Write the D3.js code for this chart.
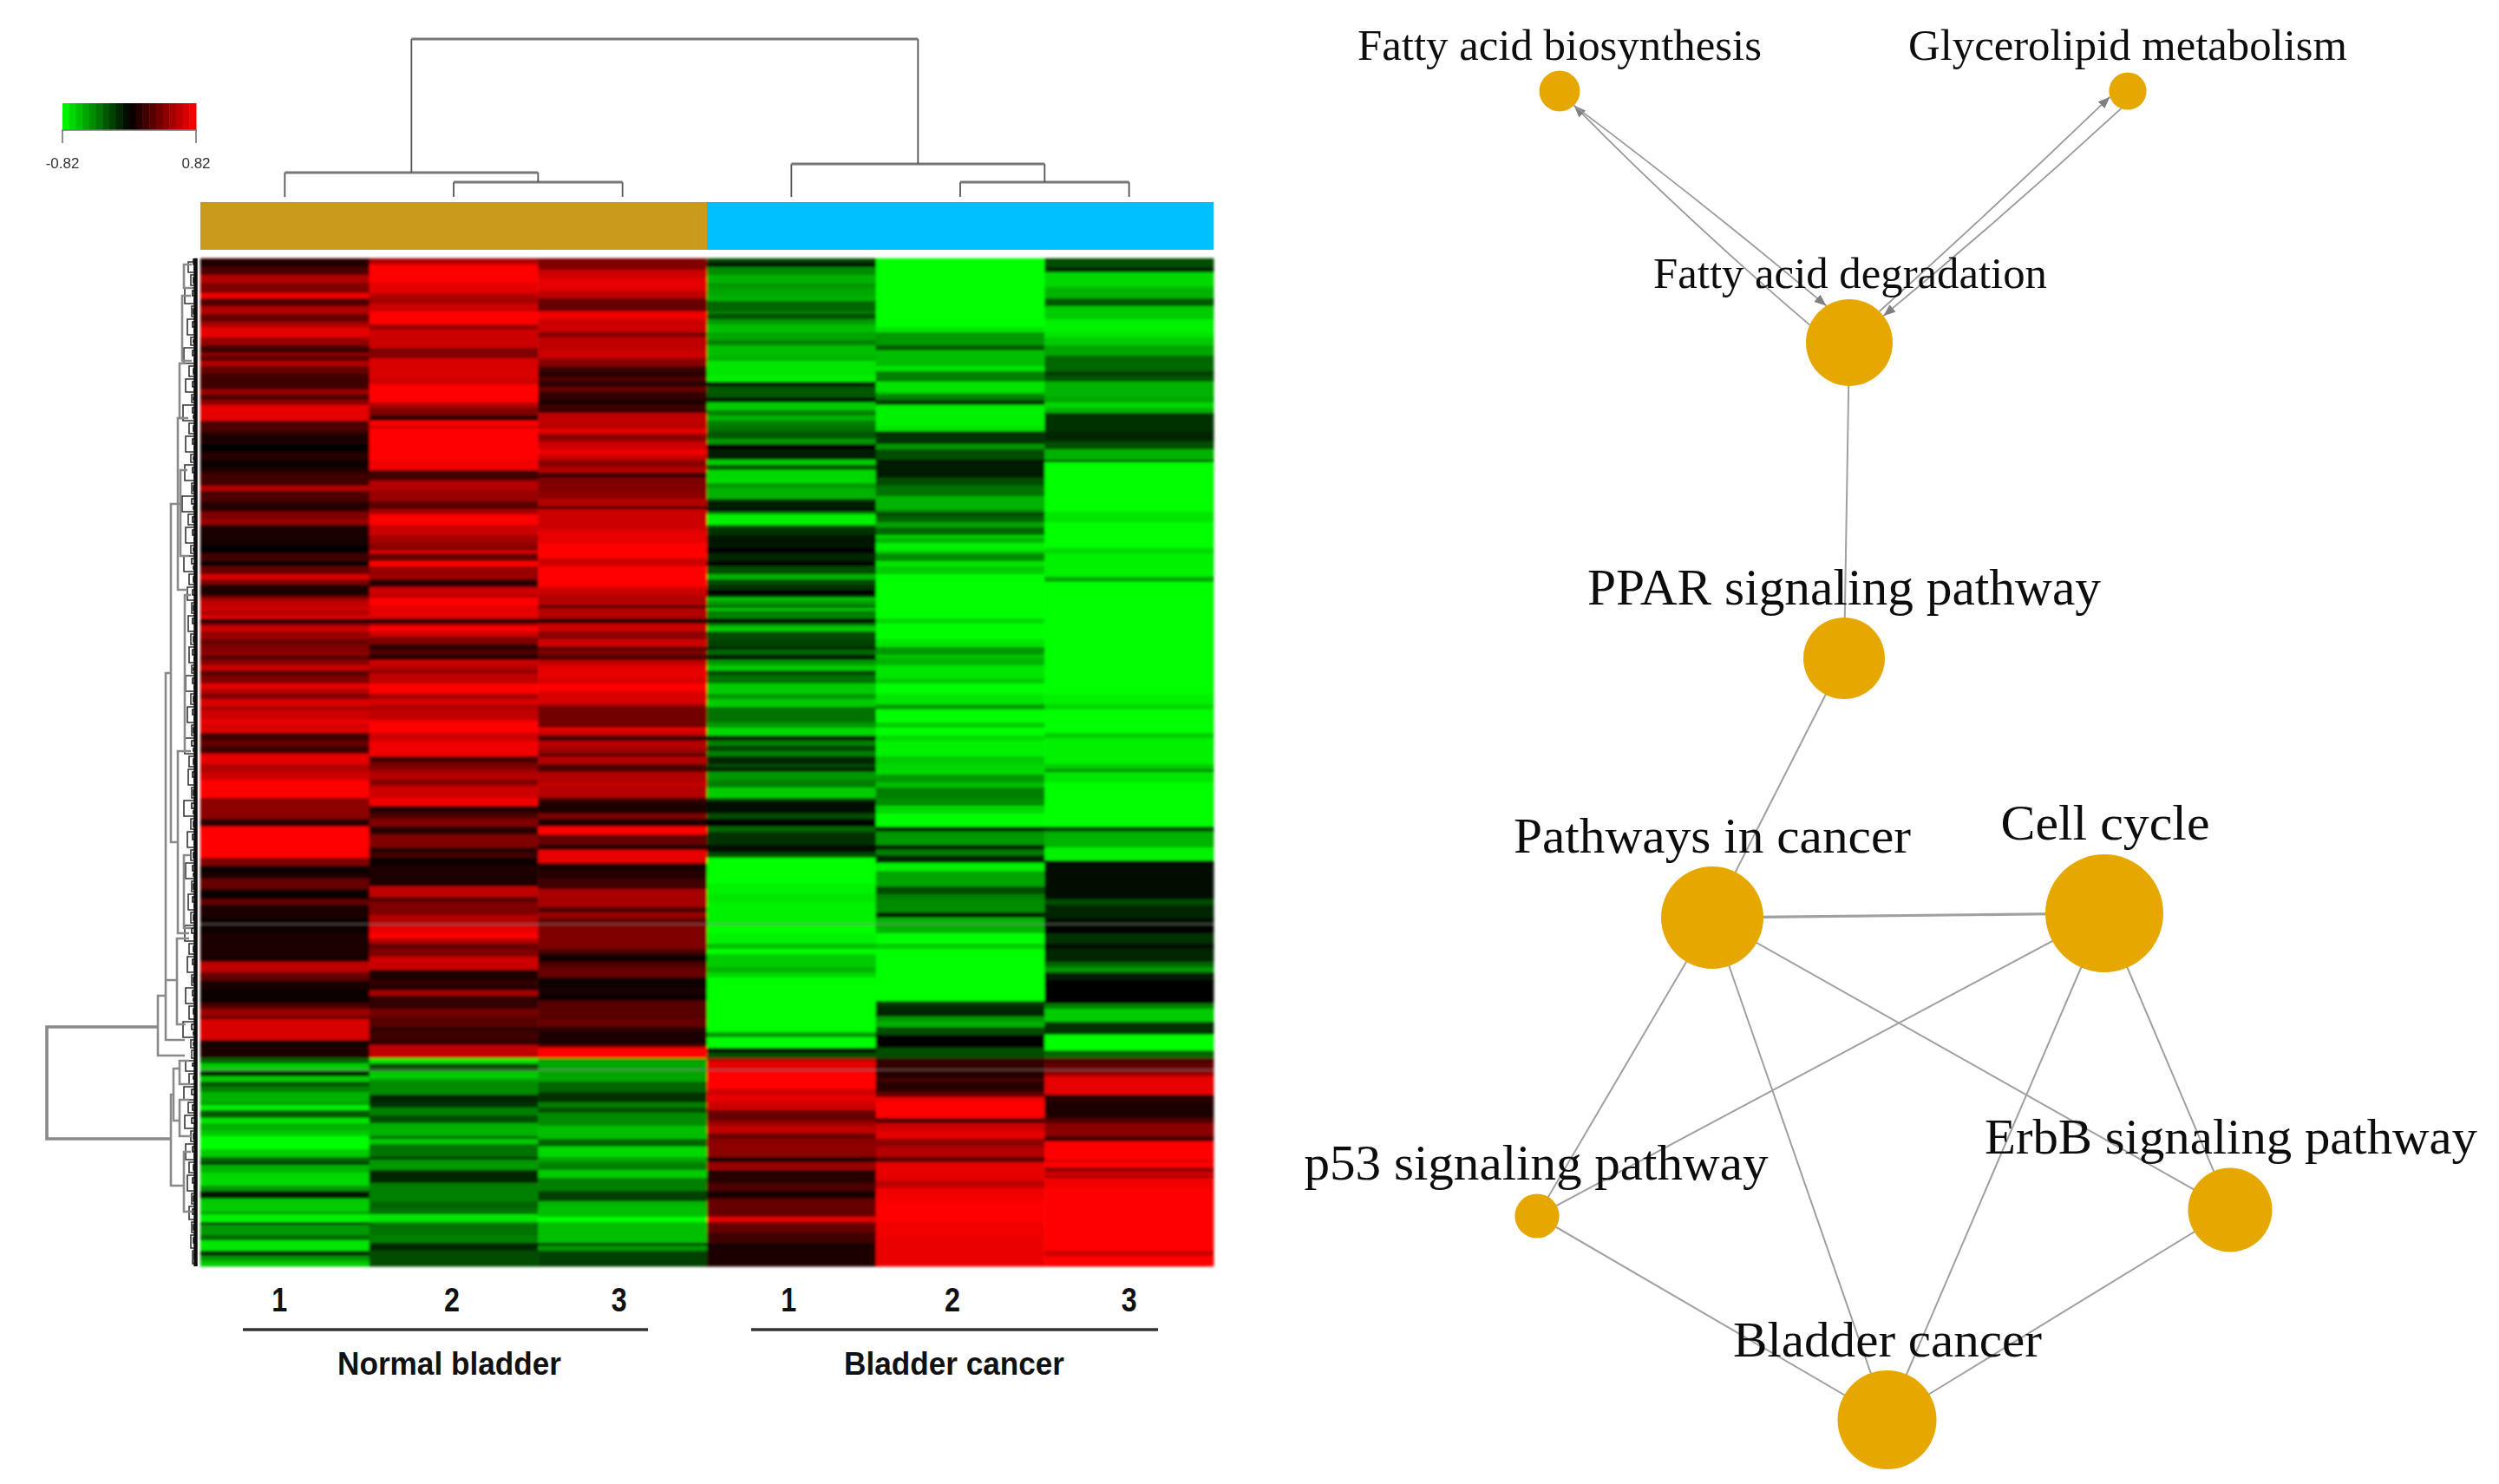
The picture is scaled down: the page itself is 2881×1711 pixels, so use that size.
<!DOCTYPE html>
<html>
<head>
<meta charset="utf-8">
<script src="https://cdn.jsdelivr.net/npm/d3@7/dist/d3.min.js"></script>
<style>
html,body{margin:0;padding:0;background:#fff}
svg{display:block}
</style>
</head>
<body>
<svg id="chart" width="2881" height="1711" viewBox="0 0 2881 1711"></svg>
<script>
// ---------- DATA ----------
const sampleIds = ["N1","N2","N3","C1","C2","C3"];
const sampleLabels = ["1","2","3","1","2","3"];
const groupLabels = ["Normal bladder","Bladder cancer"];
const legendTicks = ["-0.82","0.82"];
const rowCount = 388;

// Each heatmap column: runs of [last row, expression level -10..10]; null = blank grey row
const colN1 = [[1,3],[4,1],[7,3],[10,7],[14,5],[16,9.5],[19,3],[22,7],[25,4],[27,6.5],[31,9],[34,6],[37,2.5],[38,6],[40,3.5],[42,7],[45,4],[51,2.5],[53,6],[55,3],[57,5.5],[63,9],[65,3],
[67,3],[68,2],[72,1.2],[75,0.2],[78,1.5],[81,0.3],[83,1],[88,2.5],[90,7],[94,3],[98,1.5],[101,5],[103,6],[107,1],[111,0.8],[114,0.2],[117,2.5],[119,0.2],[122,4],[124,8.5],[126,5],[130,1],
[131,3],[132,6],[134,7.5],[136,8],[138,7],[139,9.5],[141,2],[142,5.5],[144,8],[147,6],[149,4],[152,5],[153,6],[155,3.5],[157,5.5],[159,8],[161,3.5],[164,5],[166,9],[168,7],[170,5],[173,8.5],[174,6],[178,8],[179,9.5],[183,8.5],[186,2.5],[188,4],[191,2.5],[195,9],
[198,7],[201,8],[208,10],[216,5.5],[219,1.5],[231,10],[234,5],[237,0.5],[239,1],[243,4],[247,0.3],[249,4],[254,1],[256,0.6],[257,null],[260,0.6],
[266,1],[271,1.2],[275,7.5],[278,4],[281,1],[287,0.5],[289,3],[292,6],[293,3],[301,8.5],[304,0.8],[308,1],[310,-4],[312,-8],[313,null],[315,-1],[317,-8],[319,-3.5],[321,-5],[325,-7],
[326,-6],[328,-9.5],[331,-3.5],[333,-9],[336,-7],[338,-8],[343,-10],[346,-8],[348,-4],[349,-0.5],[352,-7],[357,-8.5],[359,-6],[362,-0.8],[367,-8],[368,-6],[371,-9.5],[372,-0.8],[376,-6],[378,-4],[382,-9],[384,-1.5],[386,-6],[388,-8]];
const colN2 = [[1,6],[3,7],[10,10],[14,9],[16,7],[18,6.5],[21,8],[26,10],[28,6],[35,8],[39,5],[47,8.5],[49,8],[56,10],[58,7],[61,5],[63,1.5],[65,10],
[66,8],[78,10],[82,9.5],[86,2.5],[90,7],[94,6],[97,3.5],[99,6.5],[103,10],[107,8],[110,6.5],[113,5.5],[114,9],[117,4],[119,10],[124,6],[127,1.5],[130,8],
[131,7],[134,10],[139,9],[141,2],[142,7],[144,10],[146,8],[149,5],[151,1.5],[153,3],[155,1],[157,8],[159,7],[160,5],[164,7.5],[168,10],[170,6.5],[172,8.5],[174,7],[178,7.5],[179,9.5],[183,10],[186,8],[192,9.5],[194,2.5],[195,4],
[197,5],[198,6],[201,7],[203,5],[204,7],[208,8],[211,9.5],[214,1.5],[216,3],[219,5],[222,1.5],[227,5],[229,1.5],[231,2.5],[234,0.6],[242,1],[246,7.5],[248,3.5],[253,5],[256,7],[257,null],[260,9],
[262,10],[264,7],[266,4],[269,5],[274,8],[278,1],[280,2],[282,1.5],[284,6.5],[289,2],[292,4.5],[296,3.5],[298,2],[301,2.5],[303,2],[308,7.5],[310,-9],[312,-3],[313,null],[316,-8],[317,-6],[322,-5.5],[325,-1.5],
[327,-2],[330,-5],[333,-3],[338,-7],[339,-3.5],[341,-8],[346,-4.5],[347,-1],[351,-6],[356,-1.5],[363,-5],[366,-4],[368,-4.5],[371,-9],[376,-4.5],[379,-5],[382,-1.5],[388,-3]];
const colN3 = [[5,5],[8,8],[13,9],[16,7.5],[21,4],[24,9.5],[29,8],[31,5],[36,7.5],[39,8],[42,5.5],[44,2.5],[46,1.5],[48,3],[50,1.5],[52,4],[55,2],[57,1],[59,2.5],[60,1],[65,7.5],
[66,7],[68,9],[71,5.5],[74,8],[76,9.5],[78,8],[81,5.5],[83,7],[85,2.5],[90,5],[93,5.5],[96,7],[97,1.5],[105,8],[110,9],[116,10],[119,8],[127,10],[130,8],
[134,7],[135,3],[139,7],[141,2],[144,8],[147,5.5],[150,8],[151,1.5],[153,5],[155,3],[157,7.5],[162,9],[164,8.5],[167,10],[172,8.5],[173,6],[181,4.5],[182,9.5],[184,8],[186,2.5],[189,7],[191,6],[192,2],[195,7],
[198,3],[202,7],[204,7.5],[208,7],[210,2],[214,1],[216,5],[219,1],[222,10],[226,4],[228,1.5],[233,9],[236,1],[239,1.5],[243,2.5],[250,6.5],[252,3],[254,6],[256,4],[257,null],[260,5],
[266,5],[268,3],[271,0.5],[273,3],[277,4],[281,0.6],[283,1],[286,0.4],[293,3.5],[296,4],[298,1.5],[300,1],[303,1.2],[304,4],[308,10],[312,-6.5],[313,null],[317,-6.5],[321,-4],[325,-2],
[327,-5],[329,-3],[334,-5.5],[339,-7.5],[342,-4],[346,-8.5],[348,-6.5],[351,-5],[354,-8],[359,-5],[363,-2.5],[365,-7],[369,-7.5],[371,-10],[379,-7.5],[380,-1],[382,-6],[388,-2.5]];
const colC1 = [[2,-3],[4,-0.7],[7,-5.5],[10,-7],[12,-6],[15,-6.5],[17,-7],[21,-4],[22,-5],[24,-3],[26,-6],[29,-7.5],[32,-6.5],[34,-5],[38,-7.5],[40,-7],[46,-9],[48,-9.5],[50,-1.5],[54,-3.5],[56,-1],[59,-8],[61,-5],[63,-7],[65,-5],
[67,-4.5],[70,-3.5],[72,-6],[74,0],[78,-1],[80,-8],[82,-3.5],[87,-8.5],[89,-6],[93,-7],[94,-2.5],[97,-1],[98,-0.2],[99,-5],[103,-9.5],[104,-4],[107,-2],[112,-0.7],[114,0],[117,-1.5],[119,0],[122,-3],[124,-7],[126,-3],[128,-2],[130,0],
[131,-2],[132,-8],[134,-6],[135,-4],[136,-8],[139,-5],[141,-0.8],[142,-5],[144,-8],[147,-3],[150,-2.5],[151,-1],[153,-4],[155,-0.8],[157,-6],[159,-8],[161,-3],[164,-4.5],[168,-8],[170,-6],[173,-8],[179,-4.5],[181,-6],[184,-8.5],[186,-1.5],[188,-5],[190,-2.5],[192,-5],[195,-1.5],
[196,-3],[198,-1.5],[201,-6],[204,-5],[208,-8],[209,-3],[214,-0.4],[216,-3],[219,-0.2],[221,-4],[226,-2],[229,-0.6],[231,-3],[241,-10],[245,-9.5],[248,-9],[256,-9.5],[257,null],[260,-10],
[264,-9.5],[266,-7.5],[268,-10],[273,-8],[275,-7],[277,-8.5],[298,-10],[300,-6],[304,-10],[306,-1],[308,-3],[309,6],[312,9],[313,null],[320,10],[322,8],[325,9],
[328,8],[332,4],[334,6],[337,7.5],[339,4],[346,5.5],[348,1.2],[351,6],[356,1.5],[359,3],[362,0.8],[369,4],[371,9],[375,4],[379,2.5],[381,0.8],[388,1]];
const colC2 = [[27,-10],[29,-9],[34,-6],[36,-3.5],[42,-7.5],[44,-9],[48,-5],[52,-9],[53,-7],[55,-5],[57,-2],[65,-9.5],
[67,-9],[72,-2],[74,-6],[78,-3],[79,-0.5],[85,-1],[88,-3],[92,-4.5],[97,-7],[98,-6],[100,-3],[102,-4],[104,-6.5],[107,-4],[108,-8.5],[110,-7],[113,-9.5],[114,-8],[117,-5.5],[119,-9],[122,-8],[130,-10],
[139,-10],[141,-8.5],[147,-10],[150,-9],[153,-6],[154,-8],[157,-7],[162,-9],[164,-8],[168,-10],[172,-9],[174,-6],[179,-10],[181,-8],[184,-10],[186,-8.5],[192,-9.5],[195,-8],
[199,-8.5],[202,-6],[204,-7.5],[208,-5],[211,-5.5],[214,-8.5],[219,-10],[221,-2],[226,-6],[228,-1.5],[230,-5],[233,-1.5],[236,-9.5],[242,-6.5],[245,-3],[247,-5],[252,-5.5],[254,-0.7],[256,-7],[257,null],[260,-7],
[264,-10],[266,-8],[286,-10],[288,-2.5],[292,-1.5],[294,-6],[296,-7],[299,-3],[304,0],[308,-3],[311,2],[312,2],[313,null],[316,1.5],[317,3],[321,1.5],[323,4],[325,9.5],
[331,10],[333,3],[336,8],[339,9],[342,5.5],[346,7],[348,3.5],[355,9],[358,7.5],[363,9.5],[371,10],[377,9.5],[388,9.2]];
const colC3 = [[4,-3],[6,-1.5],[11,-8.5],[12,-8],[16,-7],[19,-3.5],[24,-8],[29,-9.5],[31,-9],[34,-8],[38,-6.5],[44,-4],[46,-2.5],[48,-3.5],[54,-7],[56,-6.5],[58,-8.5],[60,-7],[65,-2],
[67,-2],[71,-1.5],[74,-3],[78,-7],[79,-3.5],[98,-10],[102,-9],[112,-10],[114,-8.5],[123,-9.5],[125,-6.5],[130,-10],
[168,-10],[172,-9.5],[174,-8.5],[183,-10],[185,-8],[195,-9.5],
[197,-8],[198,-5],[202,-9],[219,-10],[221,-3],[227,-7],[232,-9.5],[247,-0.4],[249,-3],[254,-1.5],[256,-0.5],[257,null],[260,-0.2],
[264,-2],[266,-0.4],[271,-1.5],[273,-4],[275,-6],[278,-1],[287,-0.2],[289,-5],[294,-8],[299,-2],[305,-10],[308,-4],[310,3],[312,4],[313,null],[315,6],[322,9],[325,1.5],
[331,1.2],[333,3],[338,5.5],[340,2.5],[347,10],[348,8.5],[350,10],[352,6],[353,9],[354,6],[358,9.5],[382,10],[384,8],[388,10]];
const columns = [colN1,colN2,colN3,colC1,colC2,colC3];

// Column dendrogram merges: nested [height, left, right]; leaves are sample ids
const columnTree = [182,
  [28,"N1",[17,"N2","N3"]],
  [38,"C1",[17,"C2","C3"]]];

// Row dendrogram brackets: [top row, bottom row, height, top child height, bottom child height]
const rowTreeMajor = [
 [296,339,172,44,29],[284,307,44,35,13],[160,301,35,29,13],[278,278,35,22,22],
 [95,225,29,18,21],[262,295,22,8,12],[322,357,29,26,14],[312,332,26,19,19],
 [309,318,19,8,6],[324,338,19,8,6],[344,367,14,6,4],[62,128,21,16,10],
 [82,115,18,10,8],[41,62,19,12,9],[15,40,16,6,5],[3,12,14,5,4],[190,260,21,12,8],
 [130,190,13,6,6],[230,258,14,7,6]];
// Fine row dendrogram brackets: [top row, bottom row, height]
const rowTreeFine = [[2,6,9],[7,11,6],[12,18,13],[19,23,5],[24,30,10],[31,34,6],[35,41,14],[42,46,8],[47,52,12],[53,56,5],[57,63,15],[64,68,8],[69,75,12],[76,79,6],[80,86,13],[87,91,5],[92,98,16],[99,103,9],[104,110,12],[111,114,6],[115,121,14],[122,126,8],[127,132,10],[133,137,5],[138,144,9],[145,149,6],[150,156,8],[157,160,5],[161,167,12],[168,172,6],[173,179,10],[180,184,5],[185,191,13],[192,196,8],[197,203,9],[204,208,5],[209,215,14],[216,220,6],[221,227,10],[228,232,6],[233,239,12],[240,244,5],[245,251,9],[252,256,6],[257,263,13],[264,268,8],[269,275,10],[276,280,5],[281,287,12],[288,293,8],[294,300,15],[301,304,6],[305,308,5],[309,313,12],[314,318,8],[319,324,14],[325,329,9],[330,335,13],[336,340,6],[341,347,12],[348,352,8],[353,359,10],[360,364,5],[365,370,8],[371,375,5],[376,381,6],[382,387,4]];
const rowTreeMicro = [[1,3,3],[4,5,2],[8,10,3],[13,15,4],[16,17,2],[20,22,3],[25,27,4],[28,29,2],[32,33,3],[36,38,4],[39,40,2],[43,45,3],[48,50,4],[51,52,2],[54,55,3],[58,60,4],[61,62,3],[65,67,3],[70,72,4],[73,74,2],[77,78,3],[81,83,4],[84,85,2],[88,90,3],[93,95,5],[96,97,3],[100,102,4],[105,107,4],[108,109,2],[112,113,3],[116,118,5],[119,120,3],[123,125,3],[128,130,4],[134,136,3],[139,141,4],[146,148,3],[151,153,4],[154,155,2],[158,159,3],[162,164,4],[165,166,2],[169,171,3],[174,176,4],[177,178,2],[181,183,3],[186,188,5],[189,190,3],[193,195,3],[198,200,4],[201,202,2],[205,207,3],[210,212,5],[213,214,3],[217,219,3],[222,224,4],[225,226,2],[229,231,3],[234,236,4],[237,238,3],[241,243,3],[246,248,4],[249,250,2],[253,255,3],[258,260,5],[261,262,2],[265,267,3],[270,272,4],[273,274,2],[277,279,3],[282,284,4],[285,286,3],[289,291,3],[295,297,5],[298,299,3],[302,303,3],[306,307,2],[310,311,4],[315,316,3],[320,322,5],[326,328,4],[331,333,5],[337,339,3],[342,344,4],[345,346,2],[349,351,3],[354,356,4],[357,358,2],[361,363,3],[366,368,4],[372,374,3],[377,379,3],[383,385,2]];

// Pathway network (layout units)
const pathways = ["Fatty acid biosynthesis","Glycerolipid metabolism","Fatty acid degradation","PPAR signaling pathway","Pathways in cancer","Cell cycle","p53 signaling pathway","ErbB signaling pathway","Bladder cancer"];
const pathwayX = [179.8,245.3,213.2,212.6,197.4,242.6,177.2,257.1,217.55];
const pathwayY = [10.5,10.5,39.5,75.9,105.8,105.3,140.2,139.5,163.7];
const pathwaySize = [2.35,2.16,5.0,4.7,5.9,6.8,2.56,4.85,5.7];
const links = [[2,3],[3,4],[4,5],[4,6],[4,7],[4,8],[5,6],[5,8],[5,7],[6,8],[7,8]];
// Directed links: [from, to, angle at from, angle at to, bend]
const arcs = [[2,0,-17,4,8],[0,2,4,17,5],[2,1,-4,24,-3],[1,2,-27,4,5]];

// ---------- STYLE & LAYOUT (not data) ----------
const labelFont = [50,50,50,60,57,58,57,56,56];
const labelWidth = [466,506,454,592,458,241,535,568,356];
const labelBase = [69,69,332,697,983,968,1360,1330,1564];
const labelCx = [1798,2453,2133,2126,1974,2427,1771,2572,2176];
const digitNudge = [-6,-2,-4,-3,-9,0];
const heatLeft = 231, heatRight = 1399, heatTop = 296, heatBottom = 1460;
const groupCx = [518,1100], groupLine = [[280,747],[866,1335]];
const groupWidth = [258,254];

// ---------- SCALES ----------
const svg = d3.select("#chart");
const x = d3.scaleBand().domain(sampleIds).range([heatLeft, heatRight]);
const rowY = d3.scaleLinear().domain([0,rowCount]).range([heatTop, heatBottom]);
const color = d3.scaleLinear().domain([-10,0,10]).range(["#00ff00","#000000","#ff0000"]);
const colH = d3.scaleLinear().domain([0,182]).range([227,45]);
const rowH = d3.scaleLinear().domain([0,172]).range([226,54]);
const layout = d3.scaleLinear().domain([0,288.1]).range([0,2881]);
const radius = d3.scaleLinear().domain([0,10]).range([0,100]);

const defs = svg.append("defs");
defs.append("filter").attr("id","blurH").attr("x","-1%").attr("y","-1%").attr("width","102%").attr("height","102%")
  .append("feGaussianBlur").attr("stdDeviation","1.4");
defs.append("filter").attr("id","blurS").attr("x","-1%").attr("y","-1%").attr("width","102%").attr("height","102%")
  .append("feGaussianBlur").attr("stdDeviation","0.7");
defs.append("marker").attr("id","arrow").attr("viewBox","0 0 10 8").attr("refX",10).attr("refY",4)
  .attr("markerWidth",14).attr("markerHeight",11).attr("markerUnits","userSpaceOnUse").attr("orient","auto")
  .append("path").attr("d","M0,0L10,4L0,8Z").attr("fill","#808080");
svg.append("rect").attr("width",2881).attr("height",1711).attr("fill","#fff");

// ---------- HEATMAP ----------
const heat = svg.append("g").attr("filter","url(#blurH)");
const runs = columns.flatMap((c,i)=>{
  let start = 0.6, prev = 0;
  return c.map(([end,v])=>{
    const fill = v===null ? d3.interpolateRgb(color(prev),"#8c8c8c")(0.38) : color(v);
    const r={col:sampleIds[i],start,end,fill};
    start=end; if(v!==null) prev=v;
    return r;
  });
});
heat.selectAll("rect").data(runs).join("rect")
  .attr("x",d=>x(d.col)).attr("width",x.bandwidth()+0.5)
  .attr("y",d=>rowY(d.start)).attr("height",d=>rowY(d.end)-rowY(d.start)+0.4)
  .attr("fill",d=>d.fill);

// ---------- ANNOTATION BAR ----------
const barGroups = [sampleIds.slice(0,3), sampleIds.slice(3)];
const barColors = ["#c99a1f","#00bfff"];
svg.append("g").attr("filter","url(#blurS)").selectAll("rect").data(barGroups).join("rect")
  .attr("x",d=>x(d[0])).attr("width",d=>x.bandwidth()*d.length)
  .attr("y",233).attr("height",55).attr("fill",(d,i)=>barColors[i]);

// ---------- COLUMN DENDROGRAM ----------
const colDendro = svg.append("g").attr("fill","none").attr("filter","url(#blurS)");
function drawCol(n){
  if(typeof n==="string") return {x:x(n)+x.bandwidth()/2,h:0};
  const [h,a,b]=n, A=drawCol(a), B=drawCol(b);
  colDendro.append("path").attr("d",`M${A.x},${colH(A.h)}V${colH(h)}`).attr("stroke","#555").attr("stroke-width",1.8);
  colDendro.append("path").attr("d",`M${B.x},${colH(B.h)}V${colH(h)}`).attr("stroke","#555").attr("stroke-width",1.8);
  colDendro.append("path").attr("d",`M${A.x},${colH(h)}H${B.x}`).attr("stroke","#777").attr("stroke-width",3.2);
  return {x:(A.x+B.x)/2,h};
}
drawCol(columnTree);

// ---------- ROW DENDROGRAM ----------
const rowD = svg.append("g").attr("fill","none").attr("filter","url(#blurS)");
rowD.selectAll(".fine").data(rowTreeFine).join("path").attr("class","fine")
  .attr("d",([t,b,h])=>`M${rowH(1)},${rowY(t)}H${rowH(h)}V${rowY(b)}H${rowH(1)}`)
  .attr("stroke","#333").attr("stroke-width",1.6);
rowD.selectAll(".micro").data(rowTreeMicro).join("path").attr("class","micro")
  .attr("d",([t,b,h])=>`M${rowH(0)},${rowY(t)}H${rowH(h)}V${rowY(b)}H${rowH(0)}`)
  .attr("stroke","#161616").attr("stroke-width",1.6);
rowD.selectAll(".major").data(rowTreeMajor).join("path").attr("class","major")
  .attr("d",([t,b,h,a1,a2])=>`M${rowH(a1)},${rowY(t)}H${rowH(h)}V${rowY(b)}H${rowH(a2)}`)
  .attr("stroke","#8a8a8a").attr("stroke-width",(d)=>d[2]>100?3.6:2.6);
rowD.append("path").attr("d",`M${rowH(0.5)},${rowY(0.6)}V${rowY(rowCount)}`).attr("stroke","#111").attr("stroke-width",4.5);

// ---------- LEGEND ----------
const legendX = d3.scaleLinear().domain([-10,10]).range([72,226]);
const legendSteps = d3.range(-10,10,1);
const legend = svg.append("g").attr("filter","url(#blurS)");
legend.selectAll("rect").data(legendSteps).join("rect")
  .attr("x",d=>legendX(d)).attr("width",d=>legendX(d+1)-legendX(d)+0.5)
  .attr("y",119).attr("height",31).attr("fill",d=>color(d+0.5));
legend.append("path").attr("d",`M${legendX(-10)},165V150H${legendX(10)}V165`).attr("fill","none").attr("stroke","#777").attr("stroke-width",1.6);
legend.selectAll("text").data(legendTicks).join("text")
  .attr("x",(d,i)=>legendX(i?10:-10)).attr("y",194).attr("text-anchor","middle")
  .attr("font-family","Liberation Sans").attr("font-size",17).attr("fill","#333").text(d=>d);

// ---------- SAMPLE & GROUP LABELS ----------
const bold = svg.append("g").attr("font-family","Liberation Sans").attr("font-weight","bold").attr("fill","#111").attr("text-anchor","middle");
bold.selectAll(".digit").data(sampleLabels).join("text").attr("class","digit")
  .attr("x",(d,i)=>x(sampleIds[i])+x.bandwidth()/2+digitNudge[i]).attr("y",1512)
  .attr("font-size",39).attr("textLength",18).attr("lengthAdjust","spacingAndGlyphs").text(d=>d);
bold.selectAll(".group").data(groupLabels).join("text").attr("class","group")
  .attr("x",(d,i)=>groupCx[i]).attr("y",1585).attr("font-size",37)
  .attr("textLength",(d,i)=>groupWidth[i]).attr("lengthAdjust","spacingAndGlyphs").text(d=>d);
svg.append("g").selectAll("line").data(groupLine).join("line")
  .attr("x1",d=>d[0]).attr("x2",d=>d[1]).attr("y1",1533).attr("y2",1533)
  .attr("stroke","#333").attr("stroke-width",3.6);

// ---------- NETWORK ----------
const net = svg.append("g").attr("filter","url(#blurS)");
const px = i=>layout(pathwayX[i]), py = i=>layout(pathwayY[i]), pr = i=>radius(pathwaySize[i]);
net.selectAll(".link").data(links).join("line").attr("class","link")
  .attr("x1",d=>px(d[0])).attr("y1",d=>py(d[0])).attr("x2",d=>px(d[1])).attr("y2",d=>py(d[1]))
  .attr("stroke","#a0a0a0").attr("stroke-width",(d)=>d[0]===4&&d[1]===5?3.2:2);
function rim(i,j,deg){
  const a = Math.atan2(py(j)-py(i),px(j)-px(i))+deg*Math.PI/180;
  return [px(i)+pr(i)*Math.cos(a),py(i)+pr(i)*Math.sin(a)];
}
net.selectAll(".arc").data(arcs).join("path").attr("class","arc")
  .attr("d",([f,t,af,at,b])=>{
    const P=rim(f,t,af), Q=rim(t,f,at);
    const mx=(P[0]+Q[0])/2, my=(P[1]+Q[1])/2, L=Math.hypot(Q[0]-P[0],Q[1]-P[1]);
    const p=d3.path(); p.moveTo(P[0],P[1]);
    p.quadraticCurveTo(mx+b*(Q[1]-P[1])/L,my-b*(Q[0]-P[0])/L,Q[0],Q[1]);
    return p.toString();
  })
  .attr("fill","none").attr("stroke","#999").attr("stroke-width",1.8).attr("marker-end","url(#arrow)");
net.selectAll(".node").data(pathways).join("circle").attr("class","node")
  .attr("cx",(d,i)=>px(i)).attr("cy",(d,i)=>py(i)).attr("r",(d,i)=>pr(i)).attr("fill","#e6a804");
net.selectAll(".label").data(pathways).join("text").attr("class","label")
  .attr("x",(d,i)=>labelCx[i]).attr("y",(d,i)=>labelBase[i]).attr("text-anchor","middle")
  .attr("font-family","Liberation Serif").attr("font-size",(d,i)=>labelFont[i]).attr("fill","#111")
  .attr("textLength",(d,i)=>labelWidth[i]).attr("lengthAdjust","spacingAndGlyphs").text(d=>d);
</script>
</body>
</html>
